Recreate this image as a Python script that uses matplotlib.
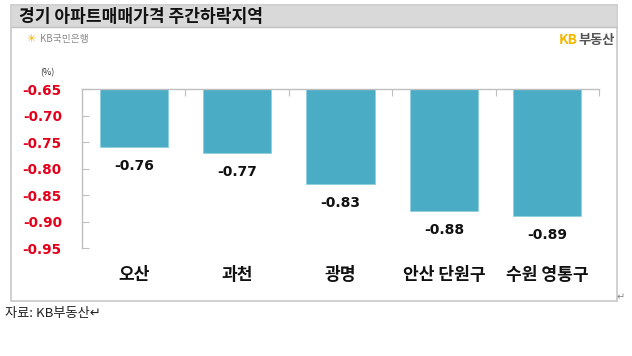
import matplotlib
matplotlib.use("Agg")
import matplotlib.pyplot as plt
from matplotlib.patches import Rectangle

plt.rcParams['font.family'] = ['Noto Sans CJK KR', 'DejaVu Sans']

regions = ['오산', '과천', '광명', '안산 단원구', '수원 영통구']
changes = [-0.76, -0.77, -0.83, -0.88, -0.89]
y_ticks = [-0.65, -0.70, -0.75, -0.80, -0.85, -0.90, -0.95]

W, H = 632, 356
BAR_COLOR = '#4BACC6'
TICK_RED = '#E3001B'
BASE = -0.65

fig = plt.figure(figsize=(W / 100, H / 100), dpi=100)


def px(x, y):
    # pixel coords (top-left origin) -> figure fraction
    return x / W, 1 - y / H


# frame and title band (kept behind the axes)
fig.patches.append(Rectangle(px(11, 301), 606 / W, 296 / H, transform=fig.transFigure,
                             facecolor='white', edgecolor='#C8C8C8', lw=1.2, zorder=-10))
fig.patches.append(Rectangle(px(12, 27), 604 / W, 21 / H, transform=fig.transFigure,
                             facecolor='#D9D9D9', edgecolor='none', zorder=-9))
fig.lines.append(plt.Line2D([12 / W, 616 / W], [1 - 27 / H] * 2, transform=fig.transFigure,
                            color='#BFBFBF', lw=1, zorder=-8))
fig.text(*px(19, 17), '경기 아파트매매가격 주간하락지역', fontsize=12.3, fontweight='bold',
         va='center', ha='left', color='#111111')

# logos
fig.text(*px(26, 39), '✳', family=['DejaVu Sans'], fontsize=8, color='#F2B400',
         va='center', ha='left')
fig.text(*px(40, 39), 'KB국민은행', fontsize=7, color='#888888', va='center', ha='left')
fig.text(*px(559, 40), 'KB', fontsize=10, fontweight='bold', color='#F5B800',
         va='center', ha='left')
fig.text(*px(578, 40), '부동산', fontsize=9.5, fontweight='bold', color='#555555',
         va='center', ha='left')
fig.text(*px(47, 73), '(%)', fontsize=6.5, color='#333333', va='center', ha='center')

# chart
x0, x1, yt, yb = 82, 599, 89, 248
ax = fig.add_axes([x0 / W, 1 - yb / H, (x1 - x0) / W, (yb - yt) / H])
xs = list(range(len(regions)))
heights = [v - BASE for v in changes]
ax.bar(xs, heights, bottom=BASE, width=0.66, color=BAR_COLOR, edgecolor='#8FD0E0', lw=0.6)
ax.set_xlim(-0.5, len(regions) - 0.5)
ax.set_ylim(-0.95, -0.65)
ax.set_yticks(y_ticks)
ax.set_yticklabels([f'{t:.2f}' for t in y_ticks], color=TICK_RED, fontsize=9.8,
                   fontweight='bold', family=['DejaVu Sans'])
ax.tick_params(axis='y', direction='in', length=5, color='#BFBFBF', pad=14.5)
ax.xaxis.tick_top()
ax.set_xticks([i + 0.5 for i in range(len(regions))])
ax.set_xticklabels([])
ax.tick_params(axis='x', direction='in', length=5, color='#BFBFBF', top=True, bottom=False)
for s in ['right', 'bottom']:
    ax.spines[s].set_visible(False)
for s in ['top', 'left']:
    ax.spines[s].set_color('#BFBFBF')
    ax.spines[s].set_linewidth(1)
ax.patch.set_alpha(0)

for i, v in enumerate(changes):
    ax.annotate(f'{v:.2f}', (i, v), xytext=(0, -19), textcoords='offset pixels',
                ha='center', va='center', fontsize=10, fontweight='bold',
                family=['DejaVu Sans'], color='#111111')
    ax.annotate(regions[i], (i, -0.95), xytext=(0, -(275 - yb)), textcoords='offset pixels',
                ha='center', va='center', fontsize=12.3, fontweight='bold',
                color='#111111', annotation_clip=False)

# source
fig.text(*px(5, 314), '자료: KB부동산↵', fontsize=9.5, color='#222222', va='center', ha='left')
fig.text(*px(621, 297), '↵', family=['DejaVu Sans'], fontsize=7, color='#888888',
         va='center', ha='center')

fig.savefig('out.png', dpi=100)
